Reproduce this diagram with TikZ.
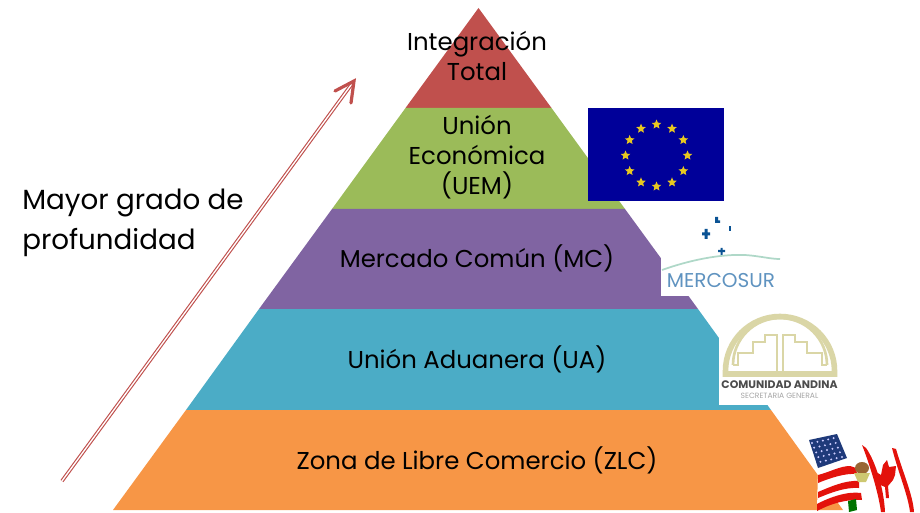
\documentclass[tikz,border=0pt]{standalone}
\usepackage{fontspec}
\setmainfont{Poppins}
\usetikzlibrary{shapes.geometric}
\definecolor{bandred}{HTML}{C0504D}
\definecolor{bandgreen}{HTML}{9BBB59}
\definecolor{bandpurple}{HTML}{8064A2}
\definecolor{bandteal}{HTML}{4BACC6}
\definecolor{bandorange}{HTML}{F79646}
\definecolor{eublue}{HTML}{000099}
\definecolor{eugold}{HTML}{E8C820}
\definecolor{mercoblue}{HTML}{0B5394}
\definecolor{mercotext}{HTML}{5F93C0}
\definecolor{mercoline}{HTML}{AFD8C8}
\definecolor{andkhaki}{HTML}{DAD6A6}
\definecolor{flagred}{HTML}{E3120B}
\definecolor{flagblue}{HTML}{1F3A7A}
\tikzset{
  bandtext/.style={inner sep=0pt,align=center,font=\fontsize{18.3}{22.5}\selectfont},
  plaintext/.style={inner sep=0pt,align=left,font=\fontsize{20.8}{30}\selectfont},
  eustar/.style={star,star points=5,star point ratio=2.2,fill=eugold,inner sep=0pt,minimum size=7.5pt},
}
\begin{document}
\begin{tikzpicture}[x=0.75pt,y=0.75pt,yscale=-1,xscale=1]
	\useasboundingbox (0,0) rectangle (920,513);

	% Pyramid bands
	\fill [bandred] (478.5,8) -- (551.5,108) -- (405.5,108) -- cycle ;
	\fill [bandgreen] (405.5,108) -- (551.5,108) -- (625,209) -- (332,209) -- cycle ;
	\fill [bandpurple] (332,209) -- (625,209) -- (698,309) -- (259,309) -- cycle ;
	\fill [bandteal] (259,309) -- (698,309) -- (771,410) -- (186,410) -- cycle ;
	\fill [bandorange] (186,410) -- (771,410) -- (843,510) -- (113,510) -- cycle ;

	% Labels
	\node [bandtext] (total) at (477,56) {Integración\\Total};
	\node [bandtext] (uem) at (477,157) {Unión\\Económica\\(UEM)};
	\node [bandtext] (mc) at (477,258) {Mercado Común (MC)};
	\node [bandtext] (ua) at (477,359) {Unión Aduanera (UA)};
	\node [bandtext] (zlc) at (477,460) {Zona de Libre Comercio (ZLC)};
	\node [plaintext,anchor=west] (grado) at (22,223) {Mayor grado de\\profundidad};

	% Arrow
	\coordinate (arrowstart) at (62,481);
	\coordinate (arrowend) at (352.5,83);
	\coordinate (arrowtip) at (354,81);
	\coordinate (barbleft) at (335,91);
	\coordinate (barbright) at (351,103);
	\draw [bandred,line width=0.85pt,double=white,double distance=1pt] (arrowstart) -- (arrowend) ;
	\draw [bandred,line width=2.4pt,line cap=round,line join=miter] (barbleft) -- (arrowtip) -- (barbright) ;

	% EU flag
	\fill [eublue] (588,108) rectangle (724,201) ;
	\foreach \ang in {0,30,...,330} {
		\node [eustar] (star\ang) at ({656.5+31*cos(\ang)},{155.5+31*sin(\ang)}) {};
	}

	% Mercosur logo
	\fill [white] (661,215) rectangle (782,296) ;
	\fill [mercoblue] (704.5,229) rectangle (707.5,239) (702,232.5) rectangle (710,235.5) ;
	\fill [mercoblue] (715,217) rectangle (718,223) (715,220.5) rectangle (720,223) ;
	\fill [mercoblue] (729,226) rectangle (731,231) ;
	\fill [mercoblue] (720.5,248) rectangle (722.5,255) (718,250) rectangle (725,252) ;
	\draw [mercoline,line width=1.3pt] (662,270) .. controls (690,260) and (720,254) .. (745,255) .. controls (760,256) and (770,259) .. (780,259) ;
	\node [inner sep=0pt,text=mercotext,font=\fontsize{15}{16}\selectfont] (mercosur) at (721,281) {MERCOSUR};

	% Comunidad Andina logo
	\fill [white] (719,310) rectangle (842,405) ;
	\draw [andkhaki,line width=4.2pt] (725.5,374) -- (725.5,371) arc [start angle=180,end angle=360,radius=54.5] -- (834.5,374) -- cycle ;
	\draw [andkhaki,line width=2pt] (733,365) arc [start angle=180,end angle=360,radius=47] ;
	\draw [andkhaki,line width=2.2pt] (733,365) -- (738,365) -- (738,353) -- (753,353) -- (753,342) -- (765,342) -- (765,335) -- (777,335) -- (777,373) ;
	\draw [andkhaki,line width=2.2pt] (827,365) -- (822,365) -- (822,353) -- (807,353) -- (807,342) -- (795,342) -- (795,335) -- (783,335) -- (783,373) ;
	\node [inner sep=0pt,text=black!70,font=\fontsize{8.2}{9}\bfseries\selectfont] (andina) at (779.5,385) {COMUNIDAD ANDINA};
	\node [inner sep=0pt,text=black!35,font=\fontsize{5.7}{6}\selectfont] (secretaria) at (779.5,396) {SECRETARIA GENERAL};

	% Flags: Canada
	\fill [flagred] (862,445) .. controls (868,460) and (878,490) .. (881,512) -- (885,512) .. controls (884,490) and (876,462) .. (866,448) -- cycle ;
	\fill [flagred] (892,448) .. controls (898,472) and (908,495) .. (910,512) -- (914,512) .. controls (913,495) and (902,470) .. (896,449) -- cycle ;
	\fill [flagred] (887,460) -- (889,467) -- (896,466) -- (895,475) -- (893,480) -- (888,486) -- (889,498) -- (886,498) -- (885,487) -- (878,484) -- (876,472) -- (881,475) -- (883,465) -- cycle ;

	% Flags: USA
	\fill [white] (818,468) -- (847,458) -- (858,464) -- (862,500) -- (834,502) -- (817,510) -- cycle ;
	\fill [flagblue] (809,440) -- (837,434) -- (847,458) -- (818,468) -- cycle ;
	\foreach \i in {0,...,4} {
		\foreach \j in {0,...,4} {
			\fill [white!80!blue] ({812+5.4*\i+2.1*\j},{443-1.2*\i+4.7*\j}) circle [radius=1.1] ;
		}
	}
	\fill [flagred] (818,475) .. controls (830,472) and (840,466) .. (850,466) -- (856,468) -- (857,474) .. controls (845,473) and (830,478) .. (818,483) -- cycle ;
	\fill [flagred] (818,492) .. controls (830,487) and (845,480) .. (859,481) -- (859,488) .. controls (845,487) and (830,493) .. (818,498) -- cycle ;
	\fill [flagred] (817,504) .. controls (830,497) and (848,491) .. (861,493) -- (862,500) .. controls (848,499) and (832,503) .. (817,511) -- cycle ;

	% Flags: Mexico
	\fill [green!45!black] (848,501) -- (856,499) -- (857,510) -- (849,512) -- cycle ;
	\fill [brown!80!black] (862,468) circle [x radius=7,y radius=6] ;
	\fill [olive!45] (854,473) -- (870,473) -- (866,482) -- (858,482) -- cycle ;
\end{tikzpicture}
\end{document}
